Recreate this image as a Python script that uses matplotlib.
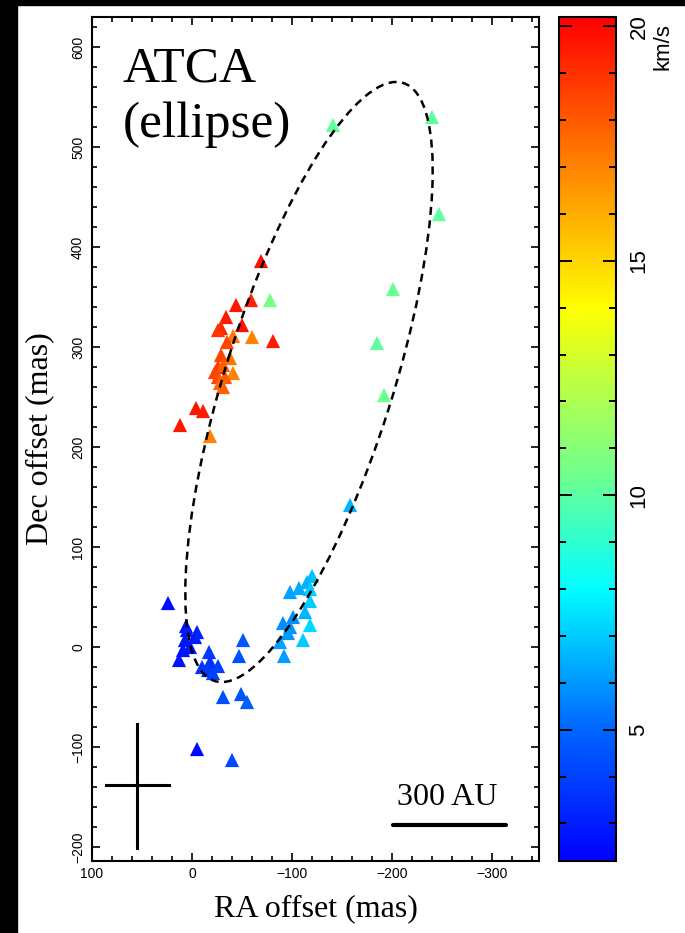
import numpy as np
import matplotlib
matplotlib.use("Agg")
import matplotlib.pyplot as plt
from matplotlib.colors import LinearSegmentedColormap
from matplotlib.patches import Ellipse, Rectangle
from matplotlib.ticker import MultipleLocator

# maser spots: RA offset (mas), Dec offset (mas), velocity (km/s)
ra = [-141, -240, -247, -201, -78, -185, -192, -158,
      -69, -44, -59, -34, -50, -29, -26, -60, -81, -41, -35, -29, -38, -26,
      -31, -23, -41, -26, -33, -28, -31, -4, -11, 12, -18,
      24, 6, 5, -5, 7, -3, 2, 9, 13, -17, -18, -26, -10, -16, -21, -51, -47,
      -31, -49, -55, -5, -40,
      -120, -115, -118, -107, -98, -118, -113, -101, -118, -91, -98, -96,
      -111, -88, -92]
dec = [522, 530, 433, 358, 347, 304, 252, 142,
       386, 342, 347, 330, 322, 319, 317, 310, 306, 311, 305, 292, 289, 280,
       282, 275, 274, 270, 270, 264, 260, 239, 236, 222, 211,
       44, 21, 17, 15, 7, 10, 0, -3, -13, -5, -15, -19, -20, -23, -26, 7, -9,
       -50, -47, -55, -102, -113,
       71, 65, 58, 59, 55, 46, 35, 30, 22, 24, 20, 14, 7, 5, -9]
vel = [10.1, 10.1, 10.1, 10.3, 10.6, 10.1, 10.4, 6.6,
       19.8, 19.6, 19.3, 19.5, 19.8, 19.2, 19.0, 17.0, 19.5, 17.2, 18.5, 18.5,
       17.3, 18.8, 18.0, 18.6, 17.0, 18.4, 18.0, 17.6, 17.8, 19.7, 19.5, 19.6,
       17.0,
       2.6, 2.8, 3.0, 3.2, 2.8, 3.0, 2.9, 2.7, 2.7, 3.8, 3.6, 3.9, 3.7, 3.8,
       4.0, 4.6, 4.4, 4.4, 4.5, 4.8, 2.5, 4.2,
       6.8, 6.5, 7.0, 6.4, 6.2, 7.0, 6.6, 5.8, 7.3, 5.8, 5.9, 6.0, 7.0, 6.2,
       6.1]

# fitted ellipse (mas, deg)
ell_center = (-117, 265)
ell_width = 627
ell_height = 168
ell_angle = 107.5

vmin, vmax = 2.2, 20.2
nodes = [(2.2, (0, 0, 1)), (5, (0, 0.4, 1)), (8, (0, 1, 1)),
         (10.5, (0.45, 1, 0.55)), (12.5, (0.75, 1, 0.25)), (14, (1, 1, 0)),
         (16.5, (1, 0.6, 0)), (20.2, (1, 0, 0))]
cmap = LinearSegmentedColormap.from_list(
    "vel", [((v - vmin) / (vmax - vmin), c) for v, c in nodes])

W, H = 685, 933
fig = plt.figure(figsize=(W / 100, H / 100), dpi=100, facecolor='white')

# black border strips of the original figure
fig.add_artist(Rectangle((0, 0), 17 / W, 1, transform=fig.transFigure,
                         color='black', zorder=0))
fig.add_artist(Rectangle((0, 1 - 5 / H), 1, 5 / H, transform=fig.transFigure,
                         color='black', zorder=0))

ax = fig.add_axes([92 / W, 72 / H, 447 / W, 844 / H])
cax = fig.add_axes([559 / W, 72 / H, 57 / W, 844 / H])

sc = ax.scatter(ra, dec, c=vel, cmap=cmap, vmin=vmin, vmax=vmax,
                marker='^', s=105, edgecolors='none', zorder=3)

ax.add_patch(Ellipse(ell_center, ell_width, ell_height, angle=ell_angle,
                     fill=False, edgecolor='black', lw=1.8,
                     linestyle=(0, (3.2, 2.2)), zorder=4))

# beam/error cross
ax.plot([86, 23], [-138, -138], color='black', lw=2.2)
ax.plot([55, 55], [-77, -201], color='black', lw=2.2)

# scale bar
ax.plot([-201, -314], [-178, -178], color='black', lw=3, solid_capstyle='round')
ax.text(-255, -158, '300 AU', ha='center', va='baseline', fontsize=23,
        family='Liberation Serif')

ax.text(0.069, 0.923, 'ATCA', transform=ax.transAxes, fontsize=37,
        family='Liberation Serif', va='baseline')
ax.text(0.069, 0.858, '(ellipse)', transform=ax.transAxes, fontsize=37,
        family='Liberation Serif', va='baseline')

ax.set_xlim(100, -347)
ax.set_ylim(-214, 630)
ax.xaxis.set_major_locator(MultipleLocator(100))
ax.xaxis.set_minor_locator(MultipleLocator(20))
ax.yaxis.set_major_locator(MultipleLocator(100))
ax.yaxis.set_minor_locator(MultipleLocator(20))
ax.tick_params(which='both', direction='in', top=True, right=True, width=1.2)
ax.tick_params(which='major', length=6)
ax.tick_params(which='minor', length=3.6)
ax.tick_params(axis='x', labelsize=10, pad=4)
ax.tick_params(axis='y', labelsize=10, pad=5)
for lab in ax.get_yticklabels():
    lab.set_rotation(90)
    lab.set_va('center')
for lab in ax.get_xticklabels() + ax.get_yticklabels():
    lab.set_family('Liberation Sans')
for s in ax.spines.values():
    s.set_linewidth(1.5)

ax.set_xlabel('RA offset (mas)', fontsize=23, family='Liberation Serif',
              labelpad=10)
ax.set_ylabel('Dec offset (mas)', fontsize=23, family='Liberation Serif',
              labelpad=12)

cb = fig.colorbar(sc, cax=cax)
cb.outline.set_linewidth(1.5)
cb.set_ticks([5, 10, 15, 20])
cax.yaxis.set_minor_locator(MultipleLocator(1))
cax.tick_params(which='both', direction='in', left=True, right=True,
                labelleft=False, labelright=True, width=1.4, color='black')
cax.tick_params(which='major', length=9.5, labelsize=16, pad=9)
cax.tick_params(which='minor', length=5)
for lab in cax.get_yticklabels():
    lab.set_rotation(90)
    lab.set_va('center')
    lab.set_family('Liberation Sans')

fig.text(663 / W, 1 - 47 / H, 'km/s', rotation=90, ha='center', va='center',
         fontsize=16, family='Liberation Sans')

fig.savefig('out.png', dpi=100, facecolor=fig.get_facecolor())
